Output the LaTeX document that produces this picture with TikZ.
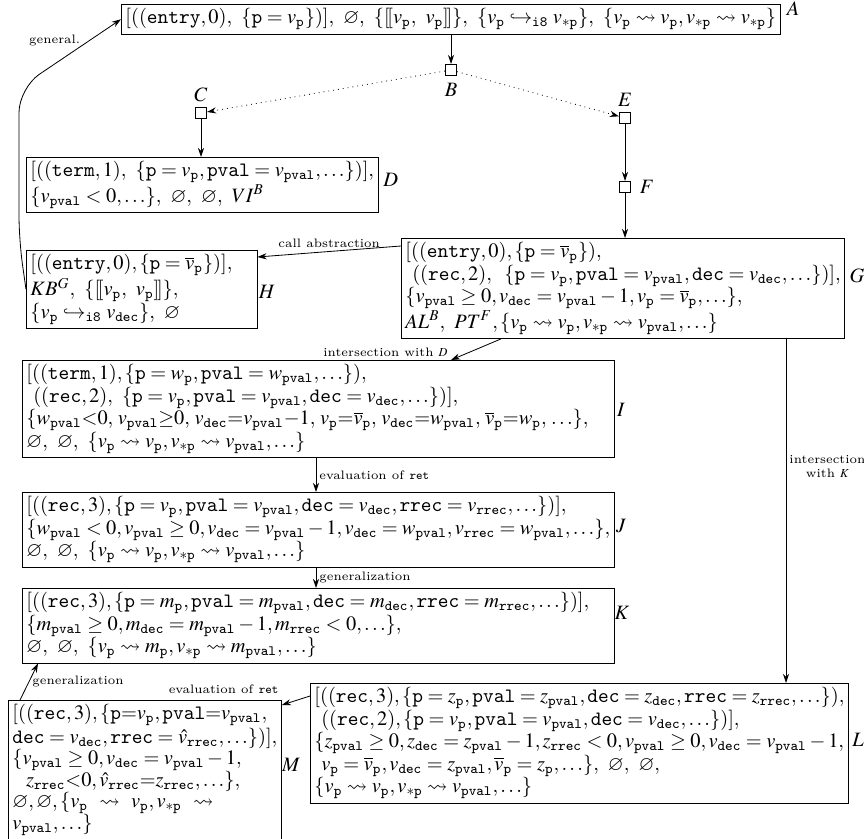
\documentclass[tikz,border=0pt]{standalone}
\usepackage{mathptmx}
\usepackage{amssymb}
\usetikzlibrary{arrows.meta,calc}

\newcommand{\kw}[1]{\mathtt{#1}}
\newcommand{\vx}[2]{#1_{\mathtt{#2}}}
\newcommand{\vp}{v_{\mathtt{p}}}
\newcommand{\vstar}{v_{*\mathtt{p}}}
\newcommand{\vbar}{\overline{v}_{\mathtt{p}}}
\newcommand{\emp}{\varnothing}
\newcommand{\lsb}{[\![}
\newcommand{\rsb}{]\!]}
\relpenalty=10000
\binoppenalty=10000

\begin{document}
\begin{tikzpicture}[x=0.49pt,y=-0.49pt,>={Stealth[length=4.5pt,width=3pt]},
  state/.style={draw, align=left, anchor=north west, inner sep=2pt, font=\fontsize{10}{11}\selectfont},
  wide/.style={text width=286pt},
  loc/.style={draw, minimum size=5.5pt, inner sep=0pt},
  tag/.style={inner sep=0pt},
  elbl/.style={font=\fontsize{6}{7}\selectfont, inner sep=1.5pt}]
\useasboundingbox (0,0) rectangle (864,838);

% abstract states
\node[state] (A) at (121,4) {$[((\kw{entry},0),\ \{\kw{p}=\vp\})],\ \emp,\ \{\lsb\vp,\ \vp\rsb\},\ \{\vp\hookrightarrow_{\kw{i8}}\vstar\},\ \{\vp\leadsto\vp, \vstar\leadsto\vstar\}$};

\node[state] (D) at (26,157) {$[((\kw{term},1),\ \{\kw{p}=\vp, \kw{pval}=\vx{v}{pval}, \ldots\})],$\\
  $\{\vx{v}{pval}<0,\ldots\},\ \emp,\ \emp,\ VI^B$};

\node[state,text width=109pt] (H) at (26,250) {$[((\kw{entry},0),\{\kw{p}=\vbar\})],$\\
  $KB^G,\ \{\lsb\vp,\ \vp\rsb\},$\\
  $\{\vp\hookrightarrow_{\kw{i8}}\vx{v}{dec}\},\ \emp$};

\node[state] (G) at (401,238) {$[((\kw{entry},0),\{\kw{p}=\vbar\}),$\\
  $\ ((\kw{rec},2),\enspace\{\kw{p}=\vp,\kw{pval}=\vx{v}{pval},\kw{dec}=\vx{v}{dec},\ldots\})],$\\
  $\{\vx{v}{pval}\geq 0,\vx{v}{dec}=\vx{v}{pval}-1,\vp=\vbar,\ldots\},$\\
  $AL^B,\ PT^F,\{\vp\leadsto\vp,\vstar\leadsto\vx{v}{pval},\ldots\}$};

\node[state,wide] (I) at (22,360) {$[((\kw{term},1),\{\kw{p}=\vx{w}{p},\kw{pval}=\vx{w}{pval},\ldots\}),$\\
  $\ ((\kw{rec},2),\ \{\kw{p}=\vp,\kw{pval}=\vx{v}{pval},\kw{dec}=\vx{v}{dec},\ldots\})],$\\
  $\{\vx{w}{pval}{<}0,\,\vx{v}{pval}{\geq}0,\,\vx{v}{dec}{=}\vx{v}{pval}{-}1,\,\vp{=}\vbar,\,\vx{v}{dec}{=}\vx{w}{pval},\,\vbar{=}\vx{w}{p},\,\ldots\},$\\
  $\emp,\ \emp,\ \{\vp\leadsto\vp,\vstar\leadsto\vx{v}{pval},\ldots\}$};

\node[state,wide] (J) at (22,492) {$[((\kw{rec},3),\{\kw{p}=\vp,\kw{pval}=\vx{v}{pval},\kw{dec}=\vx{v}{dec},\kw{rrec}=\vx{v}{rrec},\ldots\})],$\\
  $\{\vx{w}{pval}<0,\vx{v}{pval}\geq 0,\vx{v}{dec}=\vx{v}{pval}-1,\vx{v}{dec}=\vx{w}{pval},\vx{v}{rrec}=\vx{w}{pval},\ldots\},$\\
  $\emp,\ \emp,\ \{\vp\leadsto\vp,\vstar\leadsto\vx{v}{pval},\ldots\}$};

\node[state,wide] (K) at (22,588) {$[((\kw{rec},3),\{\kw{p}=\vx{m}{p},\kw{pval}=\vx{m}{pval},\kw{dec}=\vx{m}{dec},\kw{rrec}=\vx{m}{rrec},\ldots\})],$\\
  $\{\vx{m}{pval}\geq 0,\vx{m}{dec}=\vx{m}{pval}-1,\vx{m}{rrec}<0,\ldots\},$\\
  $\emp,\ \emp,\ \{\vp\leadsto\vx{m}{p},\vstar\leadsto\vx{m}{pval},\ldots\}$};

\node[state] (L) at (310,683) {$[((\kw{rec},3),\{\kw{p}=\vx{z}{p},\kw{pval}=\vx{z}{pval},\kw{dec}=\vx{z}{dec},\kw{rrec}=\vx{z}{rrec},\ldots\}),$\\
  $\ ((\kw{rec},2),\{\kw{p}=\vp,\kw{pval}=\vx{v}{pval},\kw{dec}=\vx{v}{dec},\ldots\})],$\\
  $\{\vx{z}{pval}\geq 0,\vx{z}{dec}=\vx{z}{pval}-1,\vx{z}{rrec}<0,\vx{v}{pval}\geq 0,\vx{v}{dec}=\vx{v}{pval}-1,$\\
  $\ \vp=\vbar,\vx{v}{dec}=\vx{z}{pval},\vbar=\vx{z}{p},\ldots\},\ \emp,\ \emp,$\\
  $\{\vp\leadsto\vp,\vstar\leadsto\vx{v}{pval},\ldots\}$};

\node[state,font=\fontsize{10}{10.5}\selectfont] (M) at (8,700) {$[((\kw{rec},3),\{\kw{p}{=}\vp,\kw{pval}{=}\vx{v}{pval},$\\
  $\kw{dec}=\vx{v}{dec},\kw{rrec}=\hat{v}_{\kw{rrec}},\ldots\})],$\\
  $\{\vx{v}{pval}\geq 0,\vx{v}{dec}=\vx{v}{pval}-1,$\\
  $\ \ \vx{z}{rrec}{<}0,\hat{v}_{\kw{rrec}}{=}\vx{z}{rrec},\ldots\},$\\
  $\emp,\emp,\{\vp\ \leadsto\ \vp,\vstar\ \leadsto$\\
  $\vx{v}{pval},\ldots\}$};

% program points
\node[loc] (B) at (451,70) {};
\node[loc] (C) at (201,113) {};
\node[loc] (E) at (625,118) {};
\node[loc] (F) at (625,187) {};

% names
\node[tag] (nA) at (793,9) {$A$};
\node[tag] (nB) at (451,90) {$B$};
\node[tag] (nC) at (201,95) {$C$};
\node[tag] (nE) at (625,100) {$E$};
\node[tag] (nF) at (647,187) {$F$};
\node[tag,anchor=west] (nD) at (383,180) {$D$};
\node[tag] (nH) at (267,292) {$H$};
\node[tag,anchor=west] (nG) at ($(G.east)+(4,-13)$) {$G$};
\node[tag] (nI) at (621,410) {$I$};
\node[tag] (nJ) at (621,526) {$J$};
\node[tag] (nK) at (622,613) {$K$};
\node[tag] (nL) at (858,740) {$L$};
\node[tag] (nM) at (291,765) {$M$};

% helper points
\coordinate (gen1) at (19,240);
\coordinate (gen2) at (19,88);
\coordinate (gl) at ($(G.south west)+(385,0)$);

% transitions
\draw[->] (A.south -| B) -- (B);
\draw[->,dotted] (B) -- (C);
\draw[->,dotted] (B) -- (E);
\draw[->] (C) -- (C |- D.north);
\draw[->] (E) -- (F);
\draw[->] (F) -- (F |- G.north);
\draw[->] ($(G.north west)+(0,8)$) -- node[elbl, above]{call abstraction} ($(H.north east)+(0,7)$);
\draw[->] ($(G.south west)+(100,0)$) -- node[elbl, pos=1, above left]{intersection with $D$} ($(I.north west)+(429,0)$);
\draw[->] ($(I.south west)+(294,0)$) -- node[elbl, right]{evaluation of \texttt{ret}} ($(J.north west)+(294,0)$);
\draw[->] ($(J.south west)+(294,0)$) -- node[elbl, right]{generalization} ($(K.north west)+(294,0)$);
\draw[->] (gl) -- node[elbl, right=0pt, align=center, pos=0.37]{intersection\\with $K$} (gl |- L.north);
\draw[->] ($(L.north west)+(0,13)$) -- node[elbl, pos=1, above left, yshift=4pt]{evaluation of \texttt{ret}} ($(M.north east)+(0,5)$);
\draw[->] ($(M.north west)+(12,0)$) -- node[elbl, midway, right]{generalization} ($(K.south west)+(16,0)$);
\draw[->, rounded corners=12pt] (H.west) -- (gen1) -- (gen2) -- node[elbl, pos=0.35, above=7pt]{general.} (A.west);
\end{tikzpicture}
\end{document}
